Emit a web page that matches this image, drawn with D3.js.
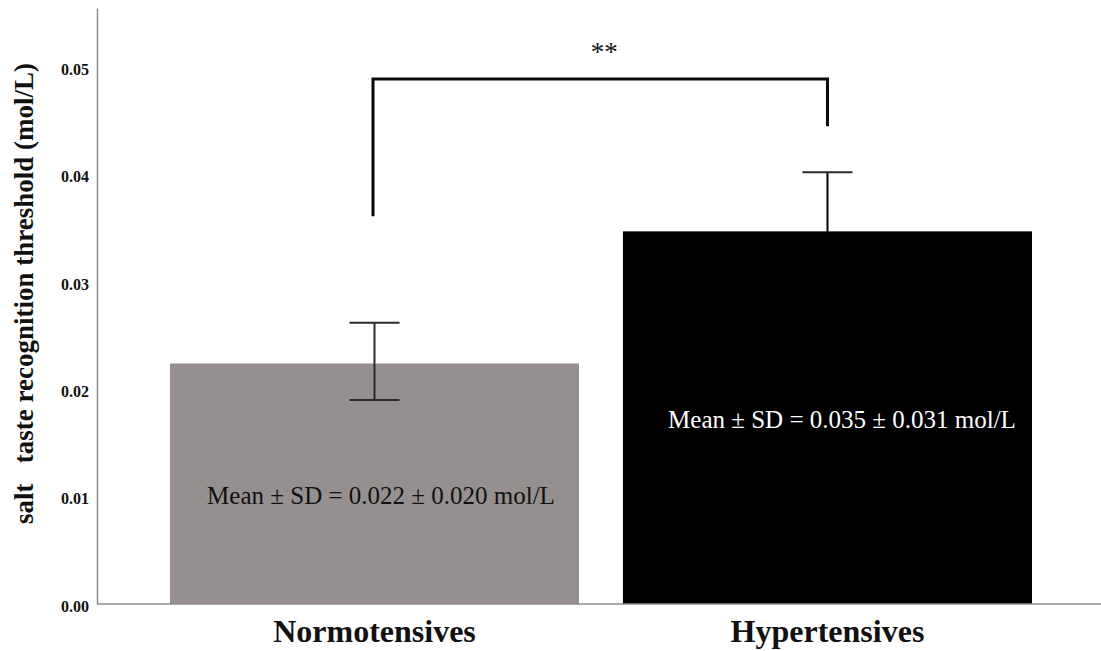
<!DOCTYPE html>
<html>
<head>
<meta charset="utf-8">
<script src="https://cdn.jsdelivr.net/npm/d3@7"></script>
<style>
  html, body { margin: 0; padding: 0; background: #fff; }
  svg { display: block; }
</style>
</head>
<body>
<svg id="chart" width="1101" height="651"></svg>
<script>
// Salt taste recognition threshold by blood-pressure group
const groups = ["Normotensives", "Hypertensives"];
const means = [0.0224, 0.0347];
const sds = [0.020, 0.031];
const errLow = [0.0190, 0.0292];
const errHigh = [0.0262, 0.0402];
const barColors = ["#958f8f", "#000000"];
const labelColors = ["#111111", "#ffffff"];
const yTicks = [0, 0.01, 0.02, 0.03, 0.04, 0.05];
const yTitle = "salt\u00a0\u00a0\u00a0taste recognition threshold (mol/L)";
// significance bracket: leg bottoms and top bar, in mol/L
const bracketLegs = [0.0361, 0.0445];
const bracketTop = 0.0489;
const sigLabel = "**";

const serif = "'Liberation Serif', 'Times New Roman', Times, serif";
const svg = d3.select("#chart");

const y = d3.scaleLinear().domain([0, 0.0555]).range([604, 8]);
const x = d3.scaleBand().domain(groups).range([97, 1101])
  .paddingInner(0.097).paddingOuter(0.1567).align(0.514);

// y axis
const yAxis = svg.append("g")
  .attr("transform", `translate(${x.range()[0]},0)`)
  .call(d3.axisLeft(y).tickValues(yTicks).tickFormat(d3.format(".2f"))
    .tickSize(0).tickSizeOuter(0).tickPadding(8));
yAxis.select(".domain").attr("stroke", "#8c8c8c").attr("stroke-width", 1.5);
yAxis.selectAll("text")
  .attr("font-family", serif).attr("font-weight", "bold")
  .attr("font-size", 16).attr("fill", "#111").attr("dy", "0.45em");

// y title
svg.append("text")
  .attr("transform", `translate(33,${(63 + 524) / 2}) rotate(-90)`)
  .attr("text-anchor", "middle")
  .attr("font-family", serif).attr("font-weight", "bold")
  .attr("font-size", 27).attr("fill", "#111")
  .text(yTitle);

// bars
svg.append("g").selectAll("rect").data(groups).join("rect")
  .attr("x", d => x(d))
  .attr("width", x.bandwidth())
  .attr("y", (d, i) => y(means[i]))
  .attr("height", (d, i) => y(0) - y(means[i]))
  .attr("fill", (d, i) => barColors[i]);

// x axis
svg.append("line")
  .attr("x1", x.range()[0]).attr("x2", x.range()[1])
  .attr("y1", y(0)).attr("y2", y(0))
  .attr("stroke", "#8c8c8c").attr("stroke-width", 1.5);
const xAxis = svg.append("g")
  .attr("transform", `translate(0,${y(0)})`)
  .call(d3.axisBottom(x).tickSize(0).tickSizeOuter(0));
xAxis.select(".domain").remove();
xAxis.selectAll("text")
  .attr("font-family", serif).attr("font-weight", "bold")
  .attr("font-size", 32).attr("fill", "#111")
  .attr("y", 38).attr("dy", 0);

// error bars
const capHalf = 25;
const eb = svg.append("g").attr("stroke", "#2a2a2a").attr("stroke-width", 2);
groups.forEach((g, i) => {
  const cx = x(g) + x.bandwidth() / 2;
  eb.append("line").attr("x1", cx).attr("x2", cx)
    .attr("y1", y(errLow[i])).attr("y2", y(errHigh[i]));
  [errLow[i], errHigh[i]].forEach(v => {
    eb.append("line").attr("x1", cx - capHalf).attr("x2", cx + capHalf)
      .attr("y1", y(v)).attr("y2", y(v));
  });
});
// lower whisker of the dark bar sits inside it
eb.selectAll("line").filter(function () {
  return +d3.select(this).attr("x1") > x(groups[1]) && +d3.select(this).attr("y1") > y(means[1]);
}).attr("stroke", "#000");

// mean ± SD annotations
const fmt = d3.format(".3f");
const labelPos = [
  { dx: 6.5, v: 0.0093 },
  { dx: 14.5, v: 0.0164 }
];
svg.append("g").selectAll("text").data(groups).join("text")
  .attr("x", (d, i) => x(d) + x.bandwidth() / 2 + labelPos[i].dx)
  .attr("y", (d, i) => y(labelPos[i].v))
  .attr("text-anchor", "middle")
  .attr("font-family", serif).attr("font-size", 25)
  .attr("fill", (d, i) => labelColors[i])
  .text((d, i) => `Mean \u00b1 SD = ${fmt(means[i])} \u00b1 ${fmt(sds[i])} mol/L`);

// significance bracket
const c0 = x(groups[0]) + x.bandwidth() / 2 - 1.5;
const c1 = x(groups[1]) + x.bandwidth() / 2;
const bracket = d3.path();
bracket.moveTo(c0, y(bracketLegs[0]));
bracket.lineTo(c0, y(bracketTop));
bracket.lineTo(c1, y(bracketTop));
bracket.lineTo(c1, y(bracketLegs[1]));
svg.append("path")
  .attr("d", bracket.toString())
  .attr("fill", "none").attr("stroke", "#0a0a0a")
  .attr("stroke-width", 3).attr("stroke-linejoin", "miter");
svg.append("text")
  .attr("x", (c0 + c1) / 2 + 4)
  .attr("y", y(bracketTop) - 18)
  .attr("text-anchor", "middle")
  .attr("font-family", serif).attr("font-size", 27).attr("fill", "#111")
  .text(sigLabel);
</script>
</body>
</html>
